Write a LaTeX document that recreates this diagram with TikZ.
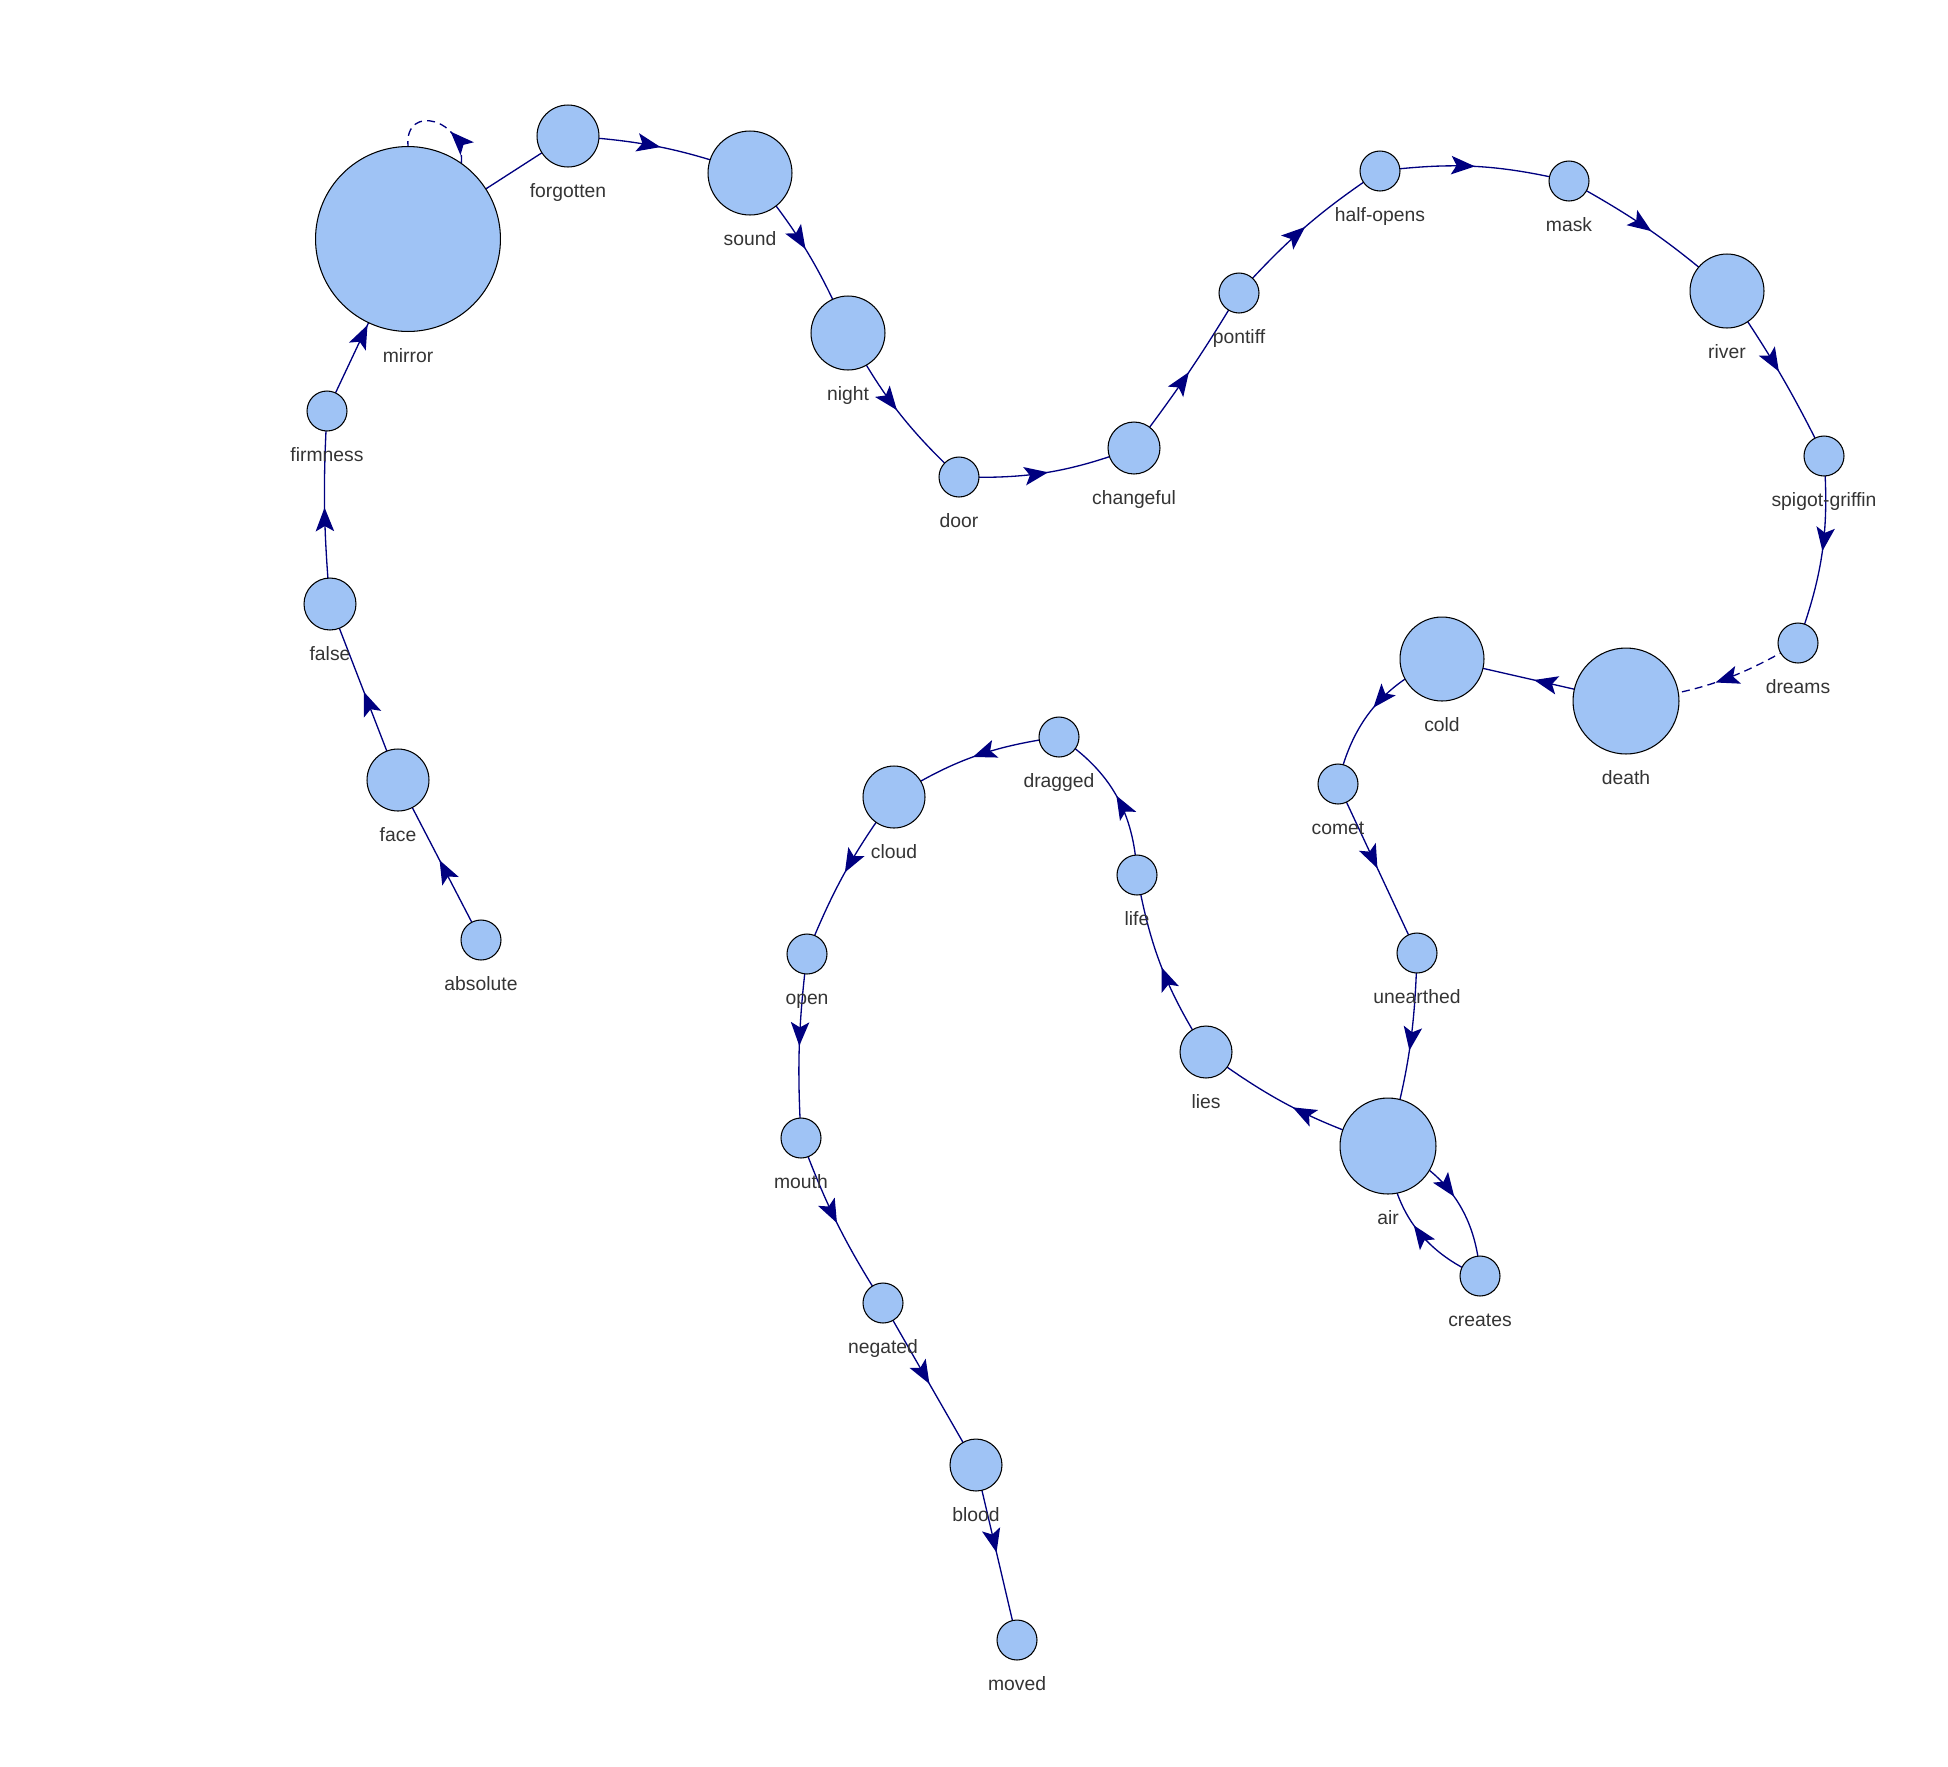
\documentclass[tikz,border=0pt]{standalone}
\usepackage{fontspec}
\setmainfont{Liberation Sans}
\usetikzlibrary{arrows.meta,decorations.markings}

\definecolor{nodeBlue}{HTML}{9FC3F5}
\definecolor{edgeNavy}{HTML}{000080}
\definecolor{labelGray}{HTML}{343434}

\pgfdeclarelayer{background}
\pgfsetlayers{background,main}

\tikzset{
    word/.style={circle, draw=black, line width=0.6pt, fill=nodeBlue, inner sep=0pt,
        minimum size=#1*0.04cm},
    lbl/.style={text=labelGray, font=\fontsize{11}{13}\selectfont, inner sep=0pt,
        text height=8pt, text depth=2.5pt, yshift=-9pt},
    link/.style={color=edgeNavy, line width=0.75pt, postaction={decorate},
        decoration={markings, mark=at position #1 with
            {\arrow{Stealth[length=13.5pt,width=10.5pt,inset=3pt]}}}},
    link/.default=0.5,
    dashlink/.style={dash pattern=on 4.5pt off 3pt},
}

\begin{document}
\begin{tikzpicture}[x=0.02cm, y=0.02cm]
    \useasboundingbox (0,0) rectangle (1948,-1766);

    \node[word=92.5, label={[lbl]below:mirror}] (mirror) at (408,-239) {};
    \node[word=31, label={[lbl]below:forgotten}] (forgotten) at (568,-136) {};
    \node[word=42, label={[lbl]below:sound}] (sound) at (750,-173) {};
    \node[word=37, label={[lbl]below:night}] (night) at (848,-333) {};
    \node[word=20, label={[lbl]below:door}] (door) at (959,-477) {};
    \node[word=26, label={[lbl]below:changeful}] (changeful) at (1134,-448) {};
    \node[word=20, label={[lbl]below:pontiff}] (pontiff) at (1239,-293) {};
    \node[word=20, label={[lbl]below:half-opens}] (halfopens) at (1380,-171) {};
    \node[word=20, label={[lbl]below:mask}] (mask) at (1569,-181) {};
    \node[word=37, label={[lbl]below:river}] (river) at (1727,-291) {};
    \node[word=20, label={[lbl]below:spigot-griffin}] (spigot) at (1824,-456) {};
    \node[word=20, label={[lbl]below:dreams}] (dreams) at (1798,-643) {};
    \node[word=53, label={[lbl]below:death}] (death) at (1626,-701) {};
    \node[word=42, label={[lbl]below:cold}] (cold) at (1442,-659) {};
    \node[word=20, label={[lbl]below:comet}] (comet) at (1338,-784) {};
    \node[word=20, label={[lbl]below:unearthed}] (unearthed) at (1417,-953) {};
    \node[word=48, label={[lbl]below:air}] (air) at (1388,-1146) {};
    \node[word=20, label={[lbl]below:creates}] (creates) at (1480,-1276) {};
    \node[word=26, label={[lbl]below:lies}] (lies) at (1206,-1052) {};
    \node[word=20, label={[lbl]below:life}] (life) at (1137,-875) {};
    \node[word=20, label={[lbl]below:dragged}] (dragged) at (1059,-737) {};
    \node[word=31, label={[lbl]below:cloud}] (cloud) at (894,-797) {};
    \node[word=20, label={[lbl]below:open}] (open) at (807,-954) {};
    \node[word=20, label={[lbl]below:mouth}] (mouth) at (801,-1138) {};
    \node[word=20, label={[lbl]below:negated}] (negated) at (883,-1303) {};
    \node[word=26, label={[lbl]below:blood}] (blood) at (976,-1465) {};
    \node[word=20, label={[lbl]below:moved}] (moved) at (1017,-1640) {};
    \node[word=20, label={[lbl]below:absolute}] (absolute) at (481,-940) {};
    \node[word=31, label={[lbl]below:face}] (face) at (398,-780) {};
    \node[word=26, label={[lbl]below:false}] (false) at (330,-604) {};
    \node[word=20, label={[lbl]below:firmness}] (firmness) at (327,-411) {};

    \begin{pgfonlayer}{background}
    \draw[link] (absolute.center) -- (face.center);
    \draw[link] (face.center) -- (false.center);
    \draw[link] (false.center) to[bend left=4] (firmness.center);
    \draw[link] (firmness.center) -- (mirror.center);
    \draw[link=0.35, dashlink] (mirror.55) to[out=85, in=95, looseness=2] (mirror.90);
    \draw[link] (mirror.center) -- (forgotten.center);
    \draw[link] (forgotten.center) to[bend left=8] (sound.center);
    \draw[link] (sound.center) to[bend left=8] (night.center);
    \draw[link] (night.center) to[bend right=9] (door.center);
    \draw[link] (door.center) to[bend right=11] (changeful.center);
    \draw[link] (changeful.center) to[bend right=3] (pontiff.center);
    \draw[link] (pontiff.center) to[bend left=7] (halfopens.center);
    \draw[link] (halfopens.center) to[bend left=10] (mask.center);
    \draw[link] (mask.center) to[bend left=6] (river.center);
    \draw[link] (river.center) to[bend left=4] (spigot.center);
    \draw[link] (spigot.center) to[bend left=12] (dreams.center);
    \draw[link, dashlink] (dreams.center) to[bend left=12] (death.center);
    \draw[link] (death.center) -- (cold.center);
    \draw[link] (cold.center) to[bend right=27] (comet.center);
    \draw[link] (comet.center) -- (unearthed.center);
    \draw[link] (unearthed.center) to[bend left=7] (air.center);
    \draw[link] (air.center) to[bend left=32] (creates.center);
    \draw[link] (creates.center) to[bend left=32] (air.center);
    \draw[link] (air.center) to[bend left=9] (lies.center);
    \draw[link] (lies.center) to[bend left=11] (life.center);
    \draw[link] (life.center) to[bend right=27] (dragged.center);
    \draw[link] (dragged.center) to[bend right=12] (cloud.center);
    \draw[link] (cloud.center) to[bend right=7] (open.center);
    \draw[link] (open.center) to[bend right=5] (mouth.center);
    \draw[link] (mouth.center) to[bend right=6] (negated.center);
    \draw[link] (negated.center) -- (blood.center);
    \draw[link] (blood.center) -- (moved.center);
    \end{pgfonlayer}
\end{tikzpicture}
\end{document}
